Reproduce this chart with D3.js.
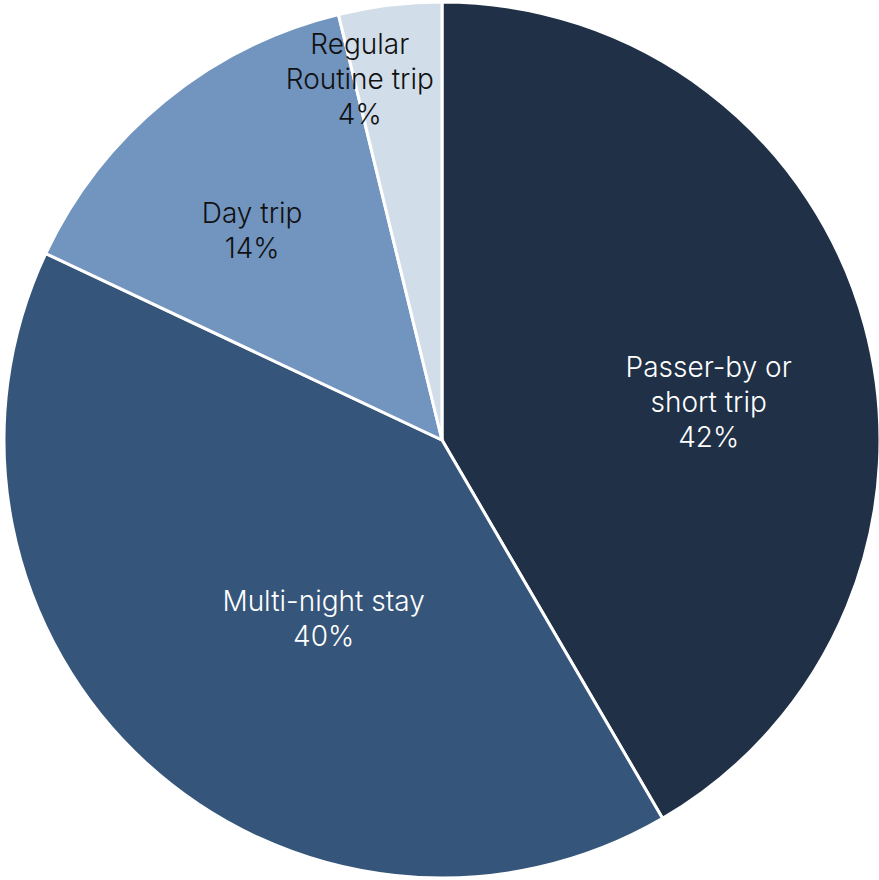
<!DOCTYPE html>
<html>
<head>
<meta charset="utf-8">
<script src="https://cdn.jsdelivr.net/npm/d3@7"></script>
<style>
  html, body { margin: 0; padding: 0; background: #ffffff; }
  svg { display: block; }
</style>
</head>
<body>
<svg id="chart" width="879" height="880"></svg>
<script>
// Data
const categories = ["Passer-by or short trip", "Multi-night stay", "Day trip", "Regular Routine trip"];
const labelLines = [["Passer-by or", "short trip"], ["Multi-night stay"], ["Day trip"], ["Regular", "Routine trip"]];
const values = [41.6, 40.4, 14.2, 3.8];
const percentLabels = ["42%", "40%", "14%", "4%"];

// Styles / layout
const colors = ["#1f3047", "#36557a", "#7295c0", "#d1deea"];
const textColors = ["#ffffff", "#ffffff", "#111111", "#111111"];
// label radius (fraction of R) and angle nudge (degrees) per slice
const labelRadius = [0.615, 0.49, 0.645, 0.845];
const labelAngleNudge = [7, -9, -3, -6];

const W = 879, H = 880;
const cx = 442, cy = 440, R = 438;

const svg = d3.select("#chart");
const g = svg.append("g").attr("transform", `translate(${cx},${cy})`);

const pie = d3.pie().sort(null).value(d => d).startAngle(0).endAngle(2 * Math.PI);
const arcs = pie(values);
const arc = d3.arc().innerRadius(0).outerRadius(R);

g.selectAll("path.slice")
  .data(arcs)
  .join("path")
  .attr("class", "slice")
  .attr("d", arc)
  .attr("fill", (d, i) => colors[i])
  .attr("stroke", "#ffffff")
  .attr("stroke-width", 3)
  .attr("stroke-linejoin", "miter");

const fontSize = 28;
const lineH = 35;

arcs.forEach((d, i) => {
  const mid = (d.startAngle + d.endAngle) / 2 + labelAngleNudge[i] * Math.PI / 180;
  const r = labelRadius[i] * R;
  const x = r * Math.sin(mid);
  const y = -r * Math.cos(mid);
  const lines = labelLines[i].concat([percentLabels[i]]);
  const n = lines.length;
  const t = g.append("text")
    .attr("text-anchor", "middle")
    .attr("font-family", "Inter, 'Liberation Sans', Arial, sans-serif")
    .attr("font-weight", 300)
    .attr("font-size", fontSize)
    .attr("fill", textColors[i]);
  lines.forEach((ln, k) => {
    t.append("tspan")
      .attr("x", x)
      .attr("y", y + (k - (n - 1) / 2) * lineH)
      .attr("dy", "0.35em")
      .text(ln);
  });
});
</script>
</body>
</html>
